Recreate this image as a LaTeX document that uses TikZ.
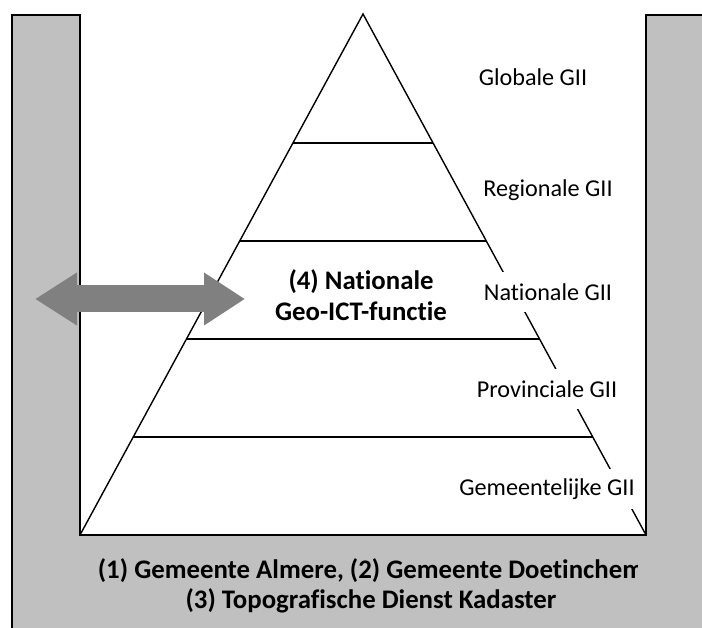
\documentclass[tikz,border=0pt]{standalone}
\usepackage{fontspec}
\setmainfont{Carlito}[Ligatures=NoCommon]
\usetikzlibrary{calc,arrows.meta}
\definecolor{barfill}{RGB}{192,192,192}
\definecolor{arrowfill}{RGB}{128,128,128}
\begin{document}
\begin{tikzpicture}[x=1pt,y=-1pt,
    level/.style={fill=white,inner xsep=2pt,minimum height=40pt,
      font=\fontsize{24.2}{28}\selectfont},
    title/.style={align=center,font=\fontsize{26.8}{30.5}\selectfont\bfseries}]
  \useasboundingbox (0,0) rectangle (702,628);
  % grey frame round the pyramid
  \draw[line width=1.3pt,fill=barfill] (12,15) rectangle (740,700);
  \fill[white] (80,-10) rectangle (646,535);
  \draw[line width=1.3pt] (80,14.4) -- (80,535) -- (646,535) -- (646,14.4);
  \coordinate (apex) at (363,14);
  \coordinate (baseL) at (80,535);
  \coordinate (baseR) at (646,535);
  \draw[line width=1.4pt,line join=miter] (baseL) -- (apex) -- (baseR);
  \foreach \k in {1,...,4}
    \draw[line width=1.4pt] ($(baseL)!0.1881*\k!(apex)$) -- ($(baseR)!0.1881*\k!(apex)$);
  \draw
    (533,77) node[level] (glob){Globale GII}
    (548,190) node[level] (reg){Regionale GII}
    (548,292) node[level] (nat){Nationale GII}
    (547,389) node[level] (prov){Provinciale GII}
    (547,489) node[level] (gem){Gemeentelijke GII};
  \node[title] (func) at (361,295) {(4) Nationale\\Geo-ICT-functie};
  \begin{scope}
    \clip (80,540) rectangle (637,628);
    \node[title] (org) at (371,586)
      {(1) Gemeente Almere, (2) Gemeente Doetinchem\\(3) Topografische Dienst Kadaster};
  \end{scope}
  \coordinate (arrL) at (35,299);
  \coordinate (arrR) at (245,299);
  \draw[arrowfill,line width=27pt,
    {Triangle[width=50pt,length=42pt]}-{Triangle[width=50pt,length=41pt]}] (arrL) -- (arrR);
\end{tikzpicture}
\end{document}
